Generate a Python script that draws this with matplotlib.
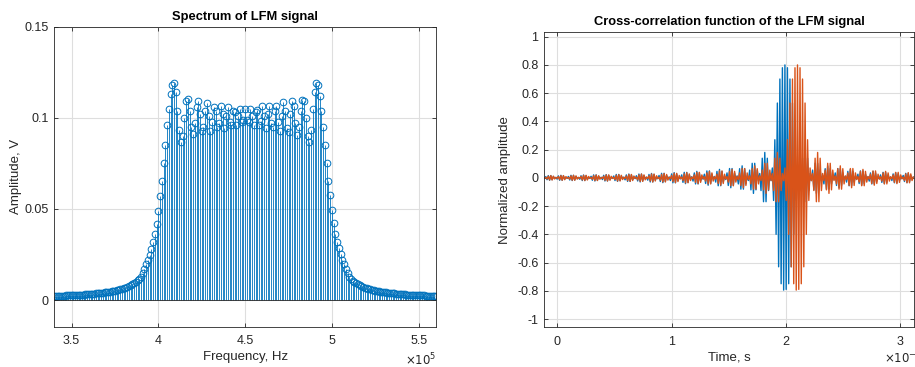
import numpy as np
import matplotlib; matplotlib.use("Agg")
import matplotlib.pyplot as plt

plt.rcParams.update({"font.family": ["Liberation Sans", "DejaVu Sans"], "axes.unicode_minus": False,
                     "font.size": 8.5, "axes.edgecolor": "#262626", "axes.linewidth": 0.6})

# ---------- data ----------
# spectrum: 1 kHz grid 340..560 kHz
freq_start, freq_step = 3.4e5, 1e3
spec_amp = [
    0.0022, 0.0022, 0.0022, 0.0023, 0.0023, 0.0024, 0.0024, 0.0025, 0.0025, 0.0026,
    0.0026, 0.0027, 0.0027, 0.0028, 0.0028, 0.0029, 0.0030, 0.0030, 0.0031, 0.0032,
    0.0033, 0.0033, 0.0034, 0.0035, 0.0036, 0.0037, 0.0038, 0.0039, 0.0041, 0.0042,
    0.0043, 0.0045, 0.0046, 0.0048, 0.0050, 0.0052, 0.0054, 0.0057, 0.0059, 0.0062,
    0.0065, 0.0068, 0.0072, 0.0077, 0.0081, 0.0087, 0.0093, 0.0100, 0.0108, 0.0117,
    0.0128, 0.0148, 0.0172, 0.0196, 0.0220, 0.0248, 0.0280, 0.0320, 0.0365, 0.0420,
    0.0490, 0.0570, 0.0655, 0.0750, 0.0850, 0.0960, 0.1050, 0.1130, 0.1180, 0.1190,
    0.1140, 0.1040, 0.0935, 0.0870, 0.0900, 0.1000, 0.1090, 0.1105, 0.1040, 0.0950,
    0.0912, 0.0970, 0.1060, 0.1090, 0.1020, 0.0930, 0.0950, 0.1040, 0.1080, 0.1010,
    0.0930, 0.0980, 0.1060, 0.1040, 0.0950, 0.0970, 0.1065, 0.1020, 0.0945, 0.1010,
    0.1060, 0.0980, 0.0960, 0.1040, 0.1030, 0.0960, 0.1010, 0.1050, 0.0980, 0.0990,
    0.1050, 0.0990, 0.0975, 0.1050, 0.1010, 0.0960, 0.1030, 0.1045, 0.0960, 0.0985,
    0.1065, 0.1010, 0.0945, 0.1020, 0.1065, 0.0970, 0.0950, 0.1040, 0.1065, 0.0980,
    0.0930, 0.1010, 0.1085, 0.1040, 0.0945, 0.0925, 0.1020, 0.1090, 0.1065, 0.0970,
    0.0905, 0.0950, 0.1040, 0.1100, 0.1090, 0.1000, 0.0900, 0.0870, 0.0935, 0.1050,
    0.1140, 0.1190, 0.1180, 0.1120, 0.1040, 0.0950, 0.0850, 0.0750, 0.0655, 0.0575,
    0.0495, 0.0425, 0.0365, 0.0320, 0.0285, 0.0250, 0.0220, 0.0196, 0.0170, 0.0146,
    0.0128, 0.0116, 0.0107, 0.0099, 0.0092, 0.0086, 0.0081, 0.0076, 0.0072, 0.0068,
    0.0065, 0.0062, 0.0059, 0.0057, 0.0054, 0.0052, 0.0050, 0.0048, 0.0046, 0.0045,
    0.0043, 0.0042, 0.0041, 0.0039, 0.0038, 0.0037, 0.0036, 0.0035, 0.0034, 0.0033,
    0.0033, 0.0032, 0.0031, 0.0030, 0.0030, 0.0029, 0.0028, 0.0028, 0.0027, 0.0027,
    0.0026, 0.0026, 0.0025, 0.0025, 0.0024, 0.0024, 0.0023, 0.0023, 0.0022, 0.0022,
    0.0022]

# cross-correlation, 1.1 us grid starting at -11 us (one row = one sidelobe)
t_start, t_step = -1.1e-5, 1.1e-6
ccf_ref = [
    -0.003, 0.009, -0.013, 0.016, -0.017, 0.016, -0.013, 0.009, -0.003,
    0.003, -0.009, 0.014, -0.017, 0.018, -0.017, 0.014, -0.009, 0.003,
    -0.003, 0.01, -0.015, 0.018, -0.019, 0.018, -0.015, 0.01, -0.003,
    0.003, -0.01, 0.015, -0.019, 0.02, -0.019, 0.015, -0.01, 0.003,
    -0.004, 0.011, -0.017, 0.021, -0.022, 0.021, -0.017, 0.011, -0.004,
    0.004, -0.012, 0.018, -0.022, 0.023, -0.022, 0.018, -0.012, 0.004,
    -0.004, 0.013, -0.019, 0.024, -0.025, 0.024, -0.019, 0.013, -0.004,
    0.005, -0.014, 0.021, -0.025, 0.027, -0.025, 0.021, -0.014, 0.005,
    -0.005, 0.015, -0.022, 0.027, -0.029, 0.027, -0.022, 0.015, -0.005,
    0.005, -0.016, 0.024, -0.029, 0.031, -0.029, 0.024, -0.016, 0.005,
    -0.006, 0.017, -0.026, 0.032, -0.034, 0.032, -0.026, 0.017, -0.006,
    0.006, -0.019, 0.028, -0.035, 0.037, -0.035, 0.028, -0.019, 0.006,
    -0.007, 0.021, -0.032, 0.039, -0.041, 0.039, -0.032, 0.021, -0.007,
    0.008, -0.023, 0.035, -0.043, 0.046, -0.043, 0.035, -0.023, 0.008,
    -0.009, 0.026, -0.04, 0.049, -0.052, 0.049, -0.04, 0.026, -0.009,
    0.01, -0.03, 0.046, -0.056, 0.06, -0.056, 0.046, -0.03, 0.01,
    -0.012, 0.035, -0.054, 0.066, -0.07, 0.066, -0.054, 0.035, -0.012,
    0.014, -0.043, 0.065, -0.08, 0.085, -0.08, 0.065, -0.043, 0.014,
    -0.019, 0.055, -0.085, 0.103, -0.11, 0.103, -0.085, 0.055, -0.019,
    0.031, -0.09, 0.139, -0.169, 0.18, -0.169, 0.139, -0.09, 0.031,
    -0.02, 0.07, -0.16, 0.27, -0.40, 0.53, -0.63, 0.70, -0.75, 0.78, -0.795,
    0.80,
    -0.79, 0.78, -0.75, 0.70, -0.63, 0.53, -0.40, 0.27, -0.16, 0.07, -0.02,
    0.031, -0.09, 0.139, -0.169, 0.18, -0.169, 0.139, -0.09, 0.031,
    -0.019, 0.055, -0.085, 0.103, -0.11, 0.103, -0.085, 0.055, -0.019,
    0.014, -0.043, 0.065, -0.08, 0.085, -0.08, 0.065, -0.043, 0.014,
    -0.012, 0.035, -0.054, 0.066, -0.07, 0.066, -0.054, 0.035, -0.012,
    0.01, -0.03, 0.046, -0.056, 0.06, -0.056, 0.046, -0.03, 0.01,
    -0.009, 0.026, -0.04, 0.049, -0.052, 0.049, -0.04, 0.026, -0.009,
    0.008, -0.023, 0.035, -0.043, 0.046, -0.043, 0.035, -0.023, 0.008,
    -0.007, 0.021, -0.032, 0.039, -0.041, 0.039, -0.032, 0.021, -0.007,
    0.006, -0.019, 0.028, -0.035, 0.037, -0.035, 0.028, -0.019, 0.006,
    -0.006, 0.017, -0.026, 0.032, -0.034, 0.032, -0.026, 0.017, -0.006,
    0.005]
ccf_shift = [
    -0.003,
    0.003, -0.008, 0.012, -0.015, 0.016, -0.015, 0.012, -0.008, 0.003,
    -0.003, 0.009, -0.013, 0.016, -0.017, 0.016, -0.013, 0.009, -0.003,
    0.003, -0.009, 0.014, -0.017, 0.018, -0.017, 0.014, -0.009, 0.003,
    -0.003, 0.01, -0.015, 0.018, -0.019, 0.018, -0.015, 0.01, -0.003,
    0.003, -0.01, 0.015, -0.019, 0.02, -0.019, 0.015, -0.01, 0.003,
    -0.004, 0.011, -0.017, 0.021, -0.022, 0.021, -0.017, 0.011, -0.004,
    0.004, -0.012, 0.018, -0.022, 0.023, -0.022, 0.018, -0.012, 0.004,
    -0.004, 0.013, -0.019, 0.024, -0.025, 0.024, -0.019, 0.013, -0.004,
    0.005, -0.014, 0.021, -0.025, 0.027, -0.025, 0.021, -0.014, 0.005,
    -0.005, 0.015, -0.022, 0.027, -0.029, 0.027, -0.022, 0.015, -0.005,
    0.005, -0.016, 0.024, -0.029, 0.031, -0.029, 0.024, -0.016, 0.005,
    -0.006, 0.017, -0.026, 0.032, -0.034, 0.032, -0.026, 0.017, -0.006,
    0.006, -0.019, 0.028, -0.035, 0.037, -0.035, 0.028, -0.019, 0.006,
    -0.007, 0.021, -0.032, 0.039, -0.041, 0.039, -0.032, 0.021, -0.007,
    0.008, -0.023, 0.035, -0.043, 0.046, -0.043, 0.035, -0.023, 0.008,
    -0.009, 0.026, -0.04, 0.049, -0.052, 0.049, -0.04, 0.026, -0.009,
    0.01, -0.03, 0.046, -0.056, 0.06, -0.056, 0.046, -0.03, 0.01,
    -0.012, 0.035, -0.054, 0.066, -0.07, 0.066, -0.054, 0.035, -0.012,
    0.014, -0.043, 0.065, -0.08, 0.085, -0.08, 0.065, -0.043, 0.014,
    -0.019, 0.055, -0.085, 0.103, -0.11, 0.103, -0.085, 0.055, -0.019,
    0.031, -0.09, 0.139, -0.169, 0.18, -0.169, 0.139, -0.09, 0.031,
    -0.02, 0.07, -0.16, 0.27, -0.40, 0.53, -0.63, 0.70, -0.75, 0.78, -0.795,
    0.80,
    -0.79, 0.78, -0.75, 0.70, -0.63, 0.53, -0.40, 0.27, -0.16, 0.07, -0.02,
    0.031, -0.09, 0.139, -0.169, 0.18, -0.169, 0.139, -0.09, 0.031,
    -0.019, 0.055, -0.085, 0.103, -0.11, 0.103, -0.085, 0.055, -0.019,
    0.014, -0.043, 0.065, -0.08, 0.085, -0.08, 0.065, -0.043, 0.014,
    -0.012, 0.035, -0.054, 0.066, -0.07, 0.066, -0.054, 0.035, -0.012,
    0.01, -0.03, 0.046, -0.056, 0.06, -0.056, 0.046, -0.03, 0.01,
    -0.009, 0.026, -0.04, 0.049, -0.052, 0.049, -0.04, 0.026, -0.009,
    0.008, -0.023, 0.035, -0.043, 0.046, -0.043, 0.035, -0.023, 0.008,
    -0.007, 0.021, -0.032, 0.039, -0.041, 0.039, -0.032, 0.021, -0.007,
    0.006, -0.019, 0.028, -0.035, 0.037, -0.035, 0.028, -0.019, 0.006]

freq = freq_start + freq_step*np.arange(len(spec_amp))
t = t_start + t_step*np.arange(len(ccf_ref))

BLUE, ORANGE, GRID, TXT = "#0072BD", "#D95319", "#dedede", "#262626"

def style(ax):
    ax.grid(True, color=GRID, lw=0.8); ax.set_axisbelow(True)
    ax.tick_params(direction="in", top=True, right=True, length=3, width=0.6,
                   colors=TXT, labelsize=9)
    ax.tick_params(axis="x", pad=6); ax.tick_params(axis="y", pad=4)

fig = plt.figure(figsize=(9.15, 3.67), dpi=100)

# ---------- spectrum ----------
ax1 = fig.add_axes([0.0593, 0.109, 0.4172, 0.818])
ml, sl, bl = ax1.stem(freq, spec_amp, linefmt="-", markerfmt="o", basefmt="-")
sl.set_color(BLUE); sl.set_linewidth(0.6)
ml.set_color(BLUE); ml.set_markerfacecolor("none"); ml.set_markersize(4.8); ml.set_markeredgewidth(0.7)
bl.set_color(TXT); bl.set_linewidth(0.6)
ax1.set_xlim(3.4e5, 5.6e5); ax1.set_ylim(-0.0148, 0.15)
ax1.set_xticks([3.5e5, 4e5, 4.5e5, 5e5, 5.5e5]); ax1.set_xticklabels(["3.5", "4", "4.5", "5", "5.5"])
ax1.set_yticks([0, 0.05, 0.1, 0.15]); ax1.set_yticklabels(["0", "0.05", "0.1", "0.15"])
style(ax1)
ax1.set_title("Spectrum of LFM signal", fontsize=9.3, fontweight="bold", pad=5)
ax1.set_xlabel("Frequency, Hz", fontsize=9.5, color=TXT, labelpad=3)
ax1.set_ylabel("Amplitude, V", fontsize=9.5, color=TXT, labelpad=2)
ax1.text(1.0, -0.11, r"$\times10^{5}$", transform=ax1.transAxes, ha="right", va="center",
         fontsize=8.5, color=TXT)

# ---------- cross-correlation ----------
ax2 = fig.add_axes([0.5945, 0.108, 0.4045, 0.804])
ax2.plot(t, ccf_ref, color=BLUE, lw=1.0)
ax2.plot(t, ccf_shift, color=ORANGE, lw=1.0)
ax2.set_xlim(-1.15e-5, 3.12e-4); ax2.set_ylim(-1.059, 1.031)
ax2.set_xticks([0, 1e-4, 2e-4, 3e-4]); ax2.set_xticklabels(["0", "1", "2", "3"])
yt = np.round(np.arange(-1, 1.01, 0.2), 1)
ax2.set_yticks(yt); ax2.set_yticklabels(["0" if abs(v) < 1e-9 else f"{v:g}" for v in yt])
style(ax2)
ax2.set_title("Cross-correlation function of the LFM signal", fontsize=9.3, fontweight="bold", pad=5)
ax2.set_xlabel("Time, s", fontsize=9.5, color=TXT, labelpad=3)
ax2.set_ylabel("Normalized amplitude", fontsize=9.5, color=TXT, labelpad=4)
ax2.text(0.918, -0.104, r"$\times10^{-4}$", transform=ax2.transAxes, ha="left", va="center",
         fontsize=8.5, color=TXT)

fig.savefig("out.png", dpi=100)
